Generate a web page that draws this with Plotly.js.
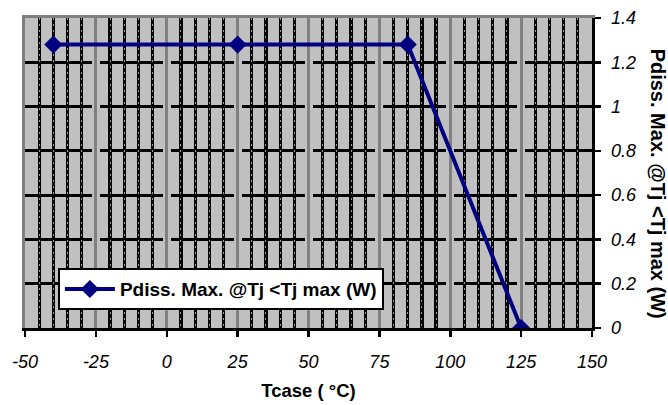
<!DOCTYPE html>
<html>
<head>
<meta charset="utf-8">
<script src="https://cdn.plot.ly/plotly-3.0.1.min.js"></script>
<style>
html,body{margin:0;padding:0;background:#fff;}
#chart{width:668px;height:405px;}
#chart .xtick text, #chart .ytick text, #chart .x2tick text, #chart .y2tick text {font-style: italic !important;}
</style>
</head>
<body>
<div id="chart"></div>
<script>
// ---- data ----
const tcase = [-40, 25, 85, 125];
const pdiss = [1.28, 1.28, 1.28, 0];
const seriesName = 'Pdiss. Max. @Tj <Tj max (W)';
const xTitle = 'Tcase ( °C)';
const yTitle = 'Pdiss. Max. @Tj <Tj max (W)';
const xTickVals = [-50, -25, 0, 25, 50, 75, 100, 125, 150];
const xTickText = ['-50', '-25', '0', '25', '50', '75', '100', '125', '150'];
const xInnerVals = [-25, 0, 25, 50, 75, 100, 125];
const yTickVals = [0, 0.2, 0.4, 0.6, 0.8, 1, 1.2, 1.4];
const yTickText = ['0', '0.2', '0.4', '0.6', '0.8', '1', '1.2', '1.4'];
const yInnerVals = [0.2, 0.4, 0.6, 0.8, 1, 1.2];
const xRange = [-50, 150];
const yRange = [0, 1.4];

const FONT = '"Liberation Sans", Arial, sans-serif';
const BG = '#c0c0c0';
const GREY = '#808080';
const NAVY = '#000080';
const ital = a => a.map(s => '<i>' + s + '</i>');

const trace = {
  x: tcase, y: pdiss, name: seriesName,
  xaxis: 'x2', yaxis: 'y2',
  type: 'scatter', mode: 'lines+markers',
  line: {color: NAVY, width: 4},
  marker: {symbol: 'diamond', size: 14, color: NAVY},
  showlegend: true
};
// empty helper traces so that the grid-only axes get their subplots
const holder = (xa, ya) => ({x: [], y: [], xaxis: xa, yaxis: ya, type: 'scatter', mode: 'lines', showlegend: false, hoverinfo: 'skip'});

const hidden = {showticklabels: false, ticks: '', showline: false, zeroline: false};
const tickFont = {family: FONT, size: 18, style: 'italic', color: '#000'};

const layout = {
  width: 668, height: 405,
  margin: {l: 25, r: 76, t: 18, b: 77},
  paper_bgcolor: '#ffffff',
  plot_bgcolor: 'rgba(0,0,0,0)',
  font: {family: FONT, color: '#000'},
  showlegend: true,
  shapes: [{
    type: 'rect', xref: 'x domain', yref: 'y domain', x0: 0, x1: 1, y0: 0, y1: 1,
    fillcolor: BG, line: {width: 0}, layer: 'below'
  }],
  // bottom subplot: minor black verticals + black horizontals
  xaxis: Object.assign({}, hidden, {
    range: xRange, anchor: 'y', dtick: 25, tick0: -50, showgrid: false,
    minor: {dtick: 5, tick0: -50, showgrid: true, gridcolor: '#000', gridwidth: 3.2}
  }),
  yaxis: Object.assign({}, hidden, {
    range: yRange, anchor: 'x', tickmode: 'array', tickvals: yInnerVals,
    showgrid: true, gridcolor: '#000', gridwidth: 3
  }),
  // top subplot: axes, gaps, grey major lines, trace
  xaxis2: {
    range: xRange, anchor: 'y2', side: 'bottom',
    tickmode: 'array', tickvals: xTickVals, ticktext: ital(xTickText),
    showgrid: false, zeroline: false,
    showline: true, linecolor: '#000', linewidth: 2.5,
    ticks: 'outside', ticklen: 6, tickwidth: 2.5, tickcolor: '#000',
    ticklabelstandoff: 10,
    tickfont: tickFont,
    title: {text: xTitle, font: {family: FONT, size: 18.5, weight: 'bold', color: '#000'}, standoff: 13}
  },
  xaxis3: Object.assign({}, hidden, {
    range: xRange, overlaying: 'x2', anchor: 'y2',
    tickmode: 'array', tickvals: xInnerVals,
    showgrid: true, gridcolor: BG, gridwidth: 8,
    minor: {dtick: 5, tick0: -50, showgrid: true, gridcolor: '#9a9a9a', gridwidth: 1, griddash: '2px,4px'}
  }),
  xaxis4: Object.assign({}, hidden, {
    range: xRange, overlaying: 'x2', anchor: 'y2', side: 'top',
    tickmode: 'array', tickvals: xInnerVals,
    showgrid: true, gridcolor: GREY, gridwidth: 3,
    showline: true, linecolor: GREY, linewidth: 3
  }),
  yaxis2: {
    range: yRange, anchor: 'x2', side: 'right',
    tickmode: 'array', tickvals: yTickVals, ticktext: ital(yTickText),
    showgrid: false, zeroline: false,
    showline: true, linecolor: '#000', linewidth: 2.5,
    ticks: 'outside', ticklen: 6, tickwidth: 2.5, tickcolor: '#000',
    ticklabelstandoff: 7,
    tickfont: tickFont
  },
  yaxis3: Object.assign({}, hidden, {
    range: yRange, overlaying: 'y2', anchor: 'x2', side: 'left',
    showgrid: false, showline: true, linecolor: GREY, linewidth: 3
  }),
  legend: {
    x: 0.058, y: 0.193, xanchor: 'left', yanchor: 'top',
    bgcolor: '#fff', bordercolor: '#000', borderwidth: 2,
    itemwidth: 50,
    font: {family: FONT, size: 19, weight: 'bold', color: '#000'}
  },
  annotations: [{
    text: yTitle, xref: 'paper', yref: 'paper',
    x: 1.118, y: 0.466, xanchor: 'center', yanchor: 'middle',
    textangle: 90, showarrow: false,
    font: {family: FONT, size: 20, weight: 'bold', color: '#000'}
  }]
};

const data = [
  holder('x', 'y'),
  holder('x3', 'y2'),
  holder('x4', 'y2'),
  holder('x2', 'y3'),
  trace
];

Plotly.newPlot('chart', data, layout, {staticPlot: true, displayModeBar: false});
</script>
</body>
</html>
